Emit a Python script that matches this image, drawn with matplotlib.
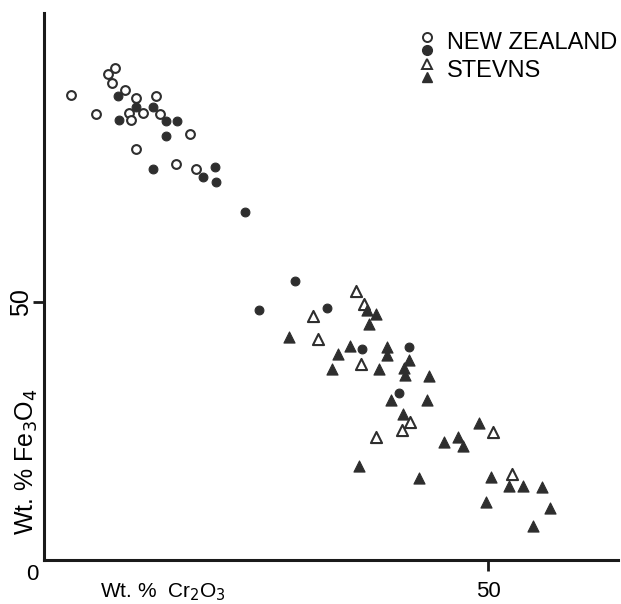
import matplotlib.pyplot as plt

plt.rcParams['font.family'] = ['Liberation Sans', 'DejaVu Sans']

# New Zealand spinels (Wt.% Cr2O3, Wt.% Fe3O4)
nz_open_x = [3.0, 8.0, 7.2, 7.7, 9.1, 10.4, 12.6, 5.9, 9.6, 9.8, 11.1, 13.0, 16.4, 10.3, 14.9, 17.1]
nz_open_y = [90.1, 95.3, 94.2, 92.4, 91.1, 89.5, 89.9, 86.4, 86.6, 85.3, 86.6, 86.4, 82.5, 79.6, 76.7, 75.8]
nz_fill_x = [8.3, 8.4, 10.4, 12.3, 13.7, 15.0, 13.7, 12.3, 19.3, 17.9, 19.4, 22.6,
             28.3, 24.2, 31.9, 35.8, 41.1, 39.9]
nz_fill_y = [90.0, 85.3, 87.7, 87.8, 85.1, 85.1, 82.2, 75.8, 76.1, 74.3, 73.3, 67.4,
             54.1, 48.4, 48.8, 40.8, 41.3, 32.3]

# Stevns spinels
st_open_x = [35.1, 36.0, 30.3, 30.8, 35.7, 41.2, 40.3, 37.4, 50.5, 52.7]
st_open_y = [52.2, 49.7, 47.3, 42.8, 38.0, 26.8, 25.2, 23.9, 24.9, 16.6]
st_fill_x = [36.3, 37.4, 36.6, 27.6, 34.4, 33.1, 32.4, 38.6, 38.6, 37.7, 41.1, 40.5, 40.6,
             43.3, 43.1, 39.0, 40.4, 49.0, 45.0, 46.6, 47.1, 35.4, 42.2, 50.3, 52.3,
             53.9, 56.0, 49.8, 56.9, 55.0]
st_fill_y = [48.4, 47.7, 45.7, 43.3, 41.5, 39.9, 37.0, 41.3, 39.7, 37.0, 38.8, 37.2, 35.9,
             35.7, 31.0, 31.0, 28.3, 26.5, 22.9, 23.9, 22.0, 18.2, 15.9, 16.0, 14.4,
             14.4, 14.2, 11.3, 10.0, 6.6]

ink = '#2e2e2e'

fig = plt.figure(figsize=(6.21, 6.04), dpi=100)
ax = fig.add_axes([44 / 621, 44 / 604, 574 / 621, 547 / 604])

ax.scatter(nz_open_x, nz_open_y, s=40, marker='o', facecolor='white', edgecolor=ink, linewidth=1.5, zorder=3)
ax.scatter(nz_fill_x, nz_fill_y, s=40, marker='o', facecolor=ink, edgecolor=ink, linewidth=0.8, zorder=3)
ax.scatter(st_open_x, st_open_y, s=64, marker='^', facecolor='white', edgecolor=ink, linewidth=1.5, zorder=3)
ax.scatter(st_fill_x, st_fill_y, s=64, marker='^', facecolor=ink, edgecolor=ink, linewidth=0.8, zorder=3)

ax.set_xlim(0, 64.6)
ax.set_ylim(0, 106)
for side in ['top', 'right']:
    ax.spines[side].set_visible(False)
for side in ['left', 'bottom']:
    ax.spines[side].set_linewidth(2.2)
    ax.spines[side].set_color('#1a1a1a')

ax.set_xticks([50])
ax.set_xticklabels(['50'], fontsize=16)
ax.set_yticks([50])
ax.set_yticklabels(['50'], fontsize=18, rotation=90, va='center')
ax.tick_params(axis='both', length=8, width=2, color='#1a1a1a')
ax.tick_params(axis='x', pad=7)
ax.tick_params(axis='y', pad=0)

ax.text(-1.3, -0.8, '0', fontsize=16, ha='center', va='top')
ax.text(6.3, -4.2, 'Wt. %  Cr$_2$O$_3$', fontsize=15, ha='left', va='top')
ax.text(-0.5, 4.8, 'Wt. % Fe$_3$O$_4$', fontsize=18, rotation=90, ha='right', va='bottom')

# legend drawn by hand, markers stacked like the original
lx = 0.667
ax.plot([lx], [0.956], 'o', ms=6.5, mfc='white', mec=ink, mew=1.4, transform=ax.transAxes, clip_on=False)
ax.plot([lx], [0.933], 'o', ms=7, mfc=ink, mec=ink, transform=ax.transAxes, clip_on=False)
ax.plot([lx], [0.907], '^', ms=7, mfc='white', mec=ink, mew=1.4, transform=ax.transAxes, clip_on=False)
ax.plot([lx], [0.883], '^', ms=7.5, mfc=ink, mec=ink, transform=ax.transAxes, clip_on=False)
ax.text(0.702, 0.945, 'NEW ZEALAND', fontsize=17, va='center', ha='left', transform=ax.transAxes)
ax.text(0.702, 0.894, 'STEVNS', fontsize=17, va='center', ha='left', transform=ax.transAxes)

fig.savefig('out.png', dpi=100)
